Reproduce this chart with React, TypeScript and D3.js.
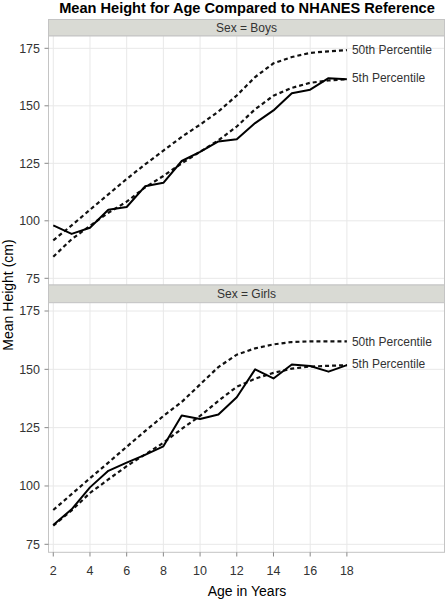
import React from "react";
import * as d3 from "d3";

const ages = [2, 3, 4, 5, 6, 7, 8, 9, 10, 11, 12, 13, 14, 15, 16, 17, 18];

const boysMean = [98, 94.3, 97, 104.8, 106, 115, 116.5, 126, 130, 134.5, 135.5, 142.5, 148, 155.5, 157, 162, 161.5];
const boysP50 = [91.5, 98, 104.8, 111.5, 118.2, 124.5, 130.5, 136.5, 141.8, 147.5, 154.5, 162.5, 168.5, 171.2, 173, 173.7, 174.2];
const boysP5 = [84.4, 92, 97.8, 103.5, 108.3, 114.5, 119.5, 125, 130, 135, 141, 148.5, 154.4, 157.8, 160, 161, 161.6];

const girlsMean = [83.3, 90, 99.4, 106.5, 110, 113.3, 117, 130.2, 128.7, 130.6, 138, 150, 146.1, 152.1, 151.4, 149, 151.8];
const girlsP50 = [89.7, 96.5, 103.3, 110, 116.8, 123.5, 130, 136, 143.5, 151, 156.3, 159, 160.7, 161.7, 162, 162, 162];
const girlsP5 = [83, 89.5, 97, 102.8, 108.5, 113.5, 118.5, 124.5, 130, 136.5, 142.5, 146, 148.5, 150.3, 151.2, 151.5, 151.8];

const xTicks = [2, 4, 6, 8, 10, 12, 14, 16, 18];
const yTicks = [75, 100, 125, 150, 175];

const title = "Mean Height for Age Compared to NHANES Reference";
const xLabel = "Age in Years";
const yLabel = "Mean Height (cm)";
const p50Label = "50th Percentile";
const p5Label = "5th Percentile";

const FONT = "'Liberation Sans', Arial, Helvetica, sans-serif";

const left = 48.5;
const right = 444.5;

const xScale = d3.scaleLinear().domain([1.74, 23.32]).range([left, right]);

const panels = [
  { name: "Sex = Boys", mean: boysMean, p50: boysP50, p5: boysP5, headTop: 19.5, top: 36, bottom: 285, domain: [72.09, 180.35] },
  { name: "Sex = Girls", mean: girlsMean, p50: girlsP50, p5: girlsP5, headTop: 285, top: 302.7, bottom: 552.3, domain: [71.57, 178.56] },
];

export default function App() {
  return (
    <svg width={447} height={600} style={{ position: "absolute", left: 0, top: 0, background: "#fff" }} fontFamily={FONT}>
      <rect x={0} y={0} width={447} height={600} fill="#fff" />
      <text x={247} y={12.5} textAnchor="middle" fontSize={14.6} fontWeight="bold" fill="#000">{title}</text>
      {panels.map((p, i) => {
        const y = d3.scaleLinear().domain(p.domain).range([p.bottom, p.top]);
        const line = d3.line<number>().x((_, j) => xScale(ages[j])).y((v) => y(v));
        const last = ages.length - 1;
        return (
          <g key={i}>
            <rect x={left} y={p.headTop} width={right - left} height={p.top - p.headTop} fill="#d9dad4" stroke="#c4c4c4" strokeWidth={1} />
            <text x={(left + right) / 2} y={(p.headTop + p.top) / 2 + 4.3} textAnchor="middle" fontSize={12} fill="#333">{p.name}</text>
            <rect x={left} y={p.top} width={right - left} height={p.bottom - p.top} fill="#fff" />
            {yTicks.map((t) => (
              <line key={"gy" + t} x1={left} x2={right} y1={y(t)} y2={y(t)} stroke="#e8e8e8" strokeWidth={1} />
            ))}
            {xTicks.map((t) => (
              <line key={"gx" + t} x1={xScale(t)} x2={xScale(t)} y1={p.top} y2={p.bottom} stroke="#e8e8e8" strokeWidth={1} />
            ))}
            <rect x={left} y={p.top} width={right - left} height={p.bottom - p.top} fill="none" stroke="#c4c4c4" strokeWidth={1} />
            {yTicks.map((t) => (
              <g key={"ty" + t}>
                <line x1={left - 4} x2={left} y1={y(t)} y2={y(t)} stroke="#888" strokeWidth={1} />
                <text x={40} y={y(t) + 4.3} textAnchor="end" fontSize={12.5} fill="#333">{t}</text>
              </g>
            ))}
            <path d={line(p.p50) || ""} fill="none" stroke="#111" strokeWidth={2.2} strokeDasharray="4 3" />
            <path d={line(p.p5) || ""} fill="none" stroke="#111" strokeWidth={2.2} strokeDasharray="4 3" />
            <path d={line(p.mean) || ""} fill="none" stroke="#000" strokeWidth={2} strokeLinejoin="round" />
            <text x={xScale(ages[last]) + 5} y={y(p.p50[last]) + 4.3} fontSize={12} fill="#333">{p50Label}</text>
            <text x={xScale(ages[last]) + 5} y={y(p.p5[last]) + 3} fontSize={12} fill="#333">{p5Label}</text>
          </g>
        );
      })}
      {xTicks.map((t) => (
        <g key={"tx" + t}>
          <line x1={xScale(t)} x2={xScale(t)} y1={552.3} y2={556.5} stroke="#888" strokeWidth={1} />
          <text x={xScale(t)} y={574.5} textAnchor="middle" fontSize={12.5} fill="#333">{t}</text>
        </g>
      ))}
      <text x={247} y={596} textAnchor="middle" fontSize={14} fill="#000">{xLabel}</text>
      <text transform="translate(13,295) rotate(-90)" textAnchor="middle" fontSize={14} fill="#000">{yLabel}</text>
    </svg>
  );
}
